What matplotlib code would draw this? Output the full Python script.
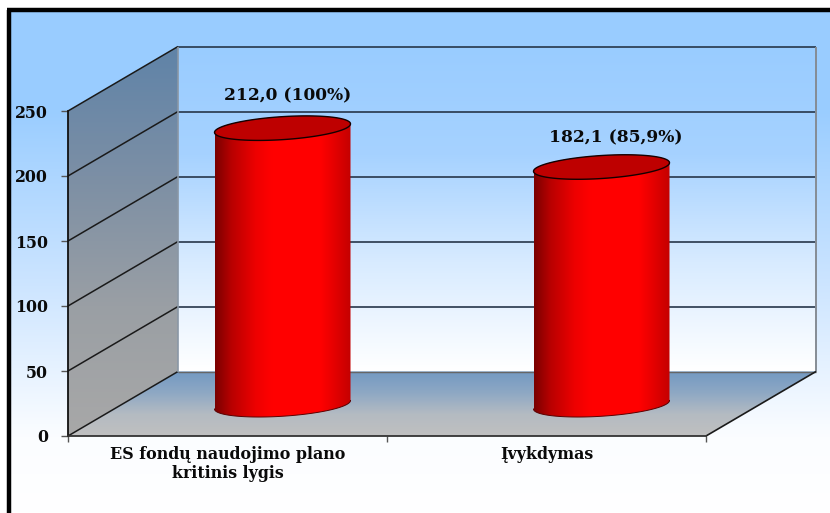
import numpy as np
import matplotlib
matplotlib.use("Agg")
import matplotlib.pyplot as plt
from matplotlib.colors import LinearSegmentedColormap as LSC
from matplotlib.patches import Polygon

# ---- data
categories = ["ES fondų naudojimo plano\nkritinis lygis", "Įvykdymas"]
values = [212.0, 182.1]
value_labels = ["212,0 (100%)", "182,1 (85,9%)"]
y_ticks = [0, 50, 100, 150, 200, 250]

W, H = 830, 513
FONT = "DejaVu Serif"
fig = plt.figure(figsize=(W / 100, H / 100), dpi=100, facecolor="white")

# page background with frame
bg = fig.add_axes([0, 0, 1, 1], zorder=0)
bg_cmap = LSC.from_list("bg", [(0, "#99CCFF"), (0.2, "#9ACDFF"), (0.55, "#CDE5FF"), (0.85, "#FBFDFF"), (1, "#FFFFFF")])
bg.imshow(np.linspace(0, 1, 256)[:, None], cmap=bg_cmap, extent=[9, W, H, 9], aspect="auto", zorder=0)
bg.set_xlim(0, W); bg.set_ylim(H, 0); bg.axis("off")
bg.plot([8.5, 8.5], [H, 9.5], color="black", lw=3.2, solid_capstyle="butt", zorder=2)
bg.plot([7, W], [9.5, 9.5], color="black", lw=3.2, solid_capstyle="butt", zorder=2)

# main axes: front plane of the 3D box plus its depth offset
L, R, T, B = 68, 706, 111, 436
DPX, DPY = 110, 64.5
sx = 2 / (R - L); sy = 250 / (B - T)      # data units per pixel
DX, DY = DPX * sx, DPY * sy               # box depth in data units
ymax = y_ticks[-1]
ax = fig.add_axes([L / W, 1 - B / H, (R + DPX - L) / W, (B - T + DPY) / H], zorder=1)
ax.patch.set_alpha(0)
XLIM, YLIM = (0, 2 + DX), (0, ymax + DY)

def grad(colors, x0, x1, y0, y1, clip, vertical=True, z=1):
    cm = LSC.from_list("g", colors)
    arr = np.linspace(0, 1, 256)[:, None] if vertical else np.linspace(0, 1, 256)[None, :]
    im = ax.imshow(arr, cmap=cm, extent=[x0, x1, y0, y1], origin="upper", aspect="auto", zorder=z)
    clip.set_transform(ax.transData)
    im.set_clip_path(clip)
    return im

# back wall
back = Polygon([(DX, DY), (2 + DX, DY), (2 + DX, ymax + DY), (DX, ymax + DY)])
grad(["#99CCFF", "#A6D2FF", "#D8EBFF", "#FFFFFF"], DX, 2 + DX, DY, ymax + DY, back, z=1)
# left wall
wall = Polygon([(0, 0), (DX, DY), (DX, ymax + DY), (0, ymax)])
grad(["#5F83A8", "#7C8FA5", "#9A9FA4", "#A8A8A8"], 0, DX, 0, ymax + DY, wall, z=1)
# floor
floor = Polygon([(0, 0), (2, 0), (2 + DX, DY), (DX, DY)])
grad(["#7399C2", "#8EA8C4", "#B4BBC2", "#C0C0C0"], 0, 2 + DX, 0, DY, floor, z=1)

kw = dict(clip_on=False, solid_capstyle="butt")
for t in y_ticks:
    ax.plot([0, DX], [t, t + DY], color="#1A1A1A", lw=1.1, zorder=2, **kw)
    if t:
        ax.plot([DX, 2 + DX], [t + DY, t + DY], color="#26364A", lw=1.2, zorder=2, **kw)
ax.plot([DX, 2 + DX], [DY, DY], color="#666666", lw=1.0, zorder=2, **kw)
ax.plot([DX, DX], [DY, ymax + DY], color="#8A97A5", lw=1.2, zorder=2, **kw)
ax.plot([2 + DX, 2 + DX], [DY, ymax + DY], color="#858C95", lw=1.4, zorder=2, **kw)
ax.plot([2, 2 + DX], [0, DY], color="#1A1A1A", lw=1.2, zorder=2, **kw)

# cylinders (tilted ellipses, pixel radii converted to data units)
RX, RY, TILT = 68, 11.5, np.deg2rad(3.6)
def ell(cx, cy, a0=0, a1=2 * np.pi, n=120):
    t = np.linspace(a0, a1, n)
    px = RX * np.cos(t)
    py = RY * np.sin(t) + (RX * np.cos(t)) * np.tan(TILT)
    return cx + px * sx, cy + py * sy

red = [(0, "#7A0000"), (0.12, "#B80000"), (0.3, "#EE0000"), (0.42, "#FF0000"), (0.78, "#FF0000"), (1, "#C40000")]
label_dy = [129 - 96, 168 - 138]
label_dx = [5.5, 14.5]
for i, v in enumerate(values):
    cx = i + 0.5 + DX / 2
    cy = DY / 2 - 1 * sy
    xb, yb = ell(cx, cy, np.pi, 2 * np.pi)
    xt, yt = ell(cx, v + cy + 1 * sy, 0, np.pi)
    verts = np.r_[np.c_[xb, yb], np.c_[xt, yt], [[xb[0], yb[0]]]]
    side = Polygon(verts, closed=True)
    grad(red, cx - RX * sx, cx + RX * sx, 0, 250, side, vertical=False, z=3)
    ax.plot(xb, yb, color="#5A0000", lw=0.7, zorder=4, clip_on=False)
    xc, yc = ell(cx, v + cy + 1 * sy)
    ax.fill(xc, yc, fc="#BE0000", ec="#150000", lw=1.0, zorder=5, clip_on=False)
    ax.text(cx + label_dx[i] * sx, v + cy + label_dy[i] * sy, value_labels[i], ha="center", va="center",
            family=FONT, weight="bold", fontsize=12.3, color="#0A0A0A", zorder=6)
ax.set_xlim(*XLIM); ax.set_ylim(*YLIM)

# axes, ticks, labels
for s in ("top", "right"):
    ax.spines[s].set_visible(False)
ax.spines["left"].set_bounds(0, ymax); ax.spines["bottom"].set_bounds(0, 2)
ax.spines["left"].set_color("#111111"); ax.spines["left"].set_linewidth(1.3)
ax.spines["bottom"].set_color("#333333"); ax.spines["bottom"].set_linewidth(1.3)
ax.set_yticks(y_ticks)
ax.set_yticklabels([str(t) for t in y_ticks], family=FONT, weight="bold", fontsize=11.3, color="#0A0A0A")
ax.tick_params(axis="y", length=5, width=1, color="#555555", pad=9.5)
ax.set_xticks([0, 1, 2]); ax.set_xticklabels([])
ax.tick_params(axis="x", length=4, width=1, color="#555555")
ax.set_xticks([0.5, 1.5], minor=True)
ax.set_xticklabels(categories, minor=True, family=FONT, weight="bold", fontsize=11.4,
                   color="#0A0A0A", linespacing=1.15)
ax.tick_params(axis="x", which="minor", length=0, pad=7)

fig.savefig("out.png", dpi=100, facecolor="white")
